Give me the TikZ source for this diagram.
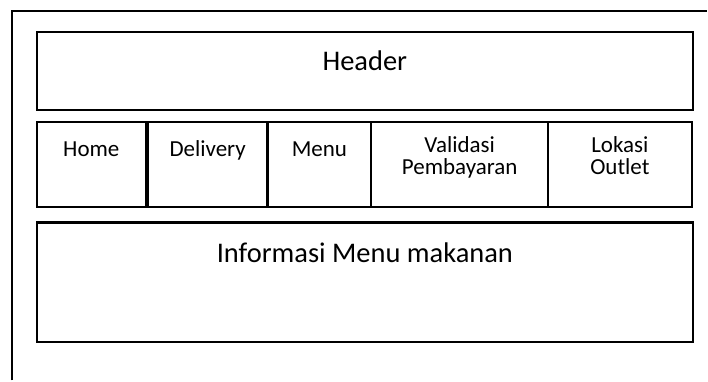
\documentclass[tikz,border=0pt]{standalone}
\usepackage{fontspec}
\setmainfont{Carlito}
\usepackage{tikz}
\usetikzlibrary{positioning}
\tikzset{
    framebox/.style={draw=black, line width=2.2pt, inner sep=0pt, outer sep=0pt, anchor=north west},
    navcell/.style={framebox, minimum height=85pt},
    bigtext/.style={font=\fontsize{28.5}{30}\selectfont, inner sep=0pt, anchor=base},
    navtext/.style={font=\fontsize{23}{22}\selectfont, inner sep=0pt, align=center, anchor=base}
}
\begin{document}
\begin{tikzpicture}[x=1pt, y=-1pt]
    % --- Khung trang ---
    \fill[white] (0,0) rectangle (708,381);
    \coordinate (pagebl) at (12,381);
    \coordinate (pagetl) at (12,11);
    \coordinate (pagetr) at (708,11);
    \draw[line width=2.6pt] (pagebl) -- (pagetl) -- (pagetr);

    % --- Header ---
    \node[framebox, minimum width=657pt, minimum height=78pt] (header) at (37,32) {};
    \node[bigtext] (headertxt) at ([yshift=-39pt]header.north) {Header};

    % --- Menu navigasi ---
    \node[navcell, minimum width=109pt] (home) at (37,122) {};
    \node[navcell, minimum width=120pt, right=2pt of home.north east, anchor=north west] (delivery) {};
    \node[navcell, minimum width=104pt, right=0pt of delivery.north east, anchor=north west] (menu) {};
    \node[navcell, minimum width=177pt, right=0pt of menu.north east, anchor=north west] (validasi) {};
    \node[navcell, minimum width=144pt, right=0pt of validasi.north east, anchor=north west] (lokasi) {};

    \node[navtext] (hometxt) at ([yshift=-35pt]home.north) {Home};
    \node[navtext] (deliverytxt) at ([yshift=-35pt]delivery.north) {Delivery};
    \node[navtext] (menutxt) at ([yshift=-35pt]menu.north) {Menu};
    \node[navtext] (validasitxt) at ([yshift=-53pt]validasi.north) {Validasi\\Pembayaran};
    \node[navtext] (lokasitxt) at ([yshift=-53pt]lokasi.north) {Lokasi\\Outlet};

    % --- Konten ---
    \node[framebox, minimum width=657pt, minimum height=120pt] (info) at (37,223) {};
    \node[bigtext] (infotxt) at ([yshift=-40pt]info.north) {Informasi Menu makanan};
    \useasboundingbox (0,0) rectangle (708,381);
\end{tikzpicture}
\end{document}
